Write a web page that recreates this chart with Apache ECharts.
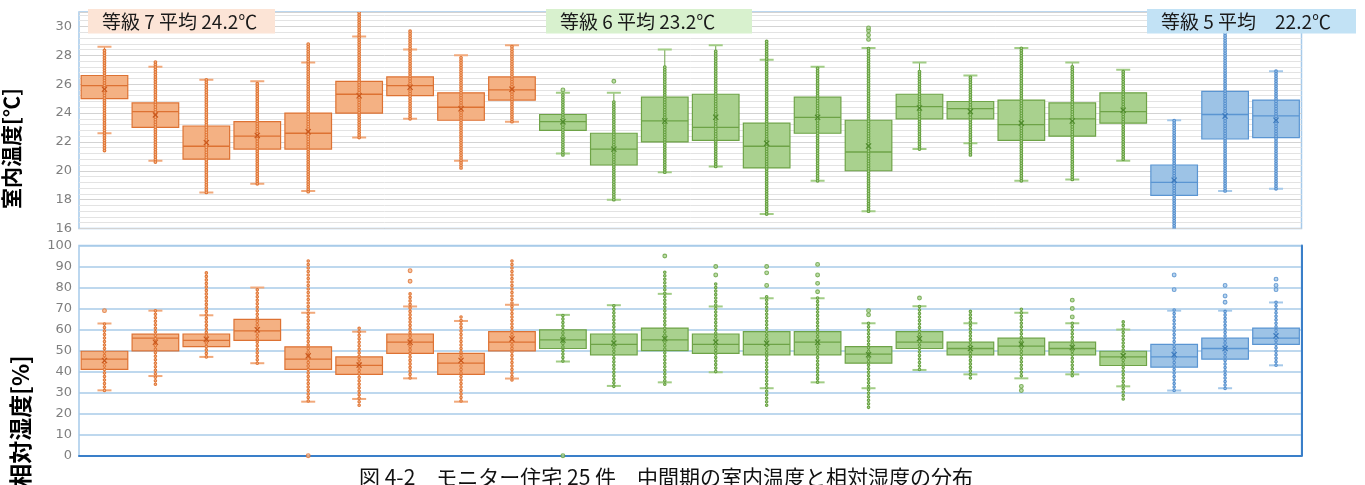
<!DOCTYPE html>
<html>
<head>
<meta charset="utf-8">
<title>中間期の室内温度と相対湿度の分布</title>
<script src="https://cdn.jsdelivr.net/npm/echarts@6/dist/echarts.min.js"></script>
<style>
  html, body { margin: 0; padding: 0; background: #ffffff; }
  #chart { width: 1365px; height: 485px; }
</style>
</head>
<body>
<div id="chart"></div>
<script>
// Monitored houses (24 with data) and their insulation grade
const houses = ['1','2','3','4','5','6','7','8','9','10','11','12',
                '13','14','15','16','17','18','19','20','21','22','23','24'];
const grades = [7,7,7,7,7,7,7,7,7, 6,6,6,6,6,6,6,6,6,6,6,6, 5,5,5];

// Group captions
const gradeNames = ['等級 7 平均', '等級 6 平均', '等級 5 平均'];
const gradeAvg   = ['24.2', '23.2', '22.2'];
const gradeGap   = [' ', ' ', '　'];

// Indoor temperature [℃]: whisker ends, quartiles, median, mean
const tempLow  = [22.6,20.7,18.5,19.1,18.6,22.3,23.6,20.7,23.4, 21.2,18.0,19.9,20.3,17.0,19.3,17.2,21.5,21.9,19.3,19.4,20.7, 15.5,18.6,18.75];
const tempQ1   = [25.0,23.0,20.8,21.5,21.5,24.0,25.2,23.5,24.9, 22.8,20.4,22.0,22.1,20.2,22.6,20.0,23.6,23.6,22.1,22.4,23.3, 18.3,22.2,22.3];
const tempMed  = [25.9,24.1,21.7,22.4,22.6,25.3,25.9,24.4,25.6, 23.4,21.5,23.45,23.0,21.7,23.7,21.3,24.45,24.3,23.2,23.6,24.1, 19.2,23.9,23.8];
const tempQ3   = [26.6,24.7,23.1,23.4,24.0,26.2,26.5,25.4,26.5, 23.9,22.6,25.1,25.3,23.3,25.1,23.5,25.3,24.8,24.9,24.7,25.4, 20.4,25.5,24.9];
const tempHigh = [28.6,27.2,26.3,26.2,27.5,29.3,28.4,28.0,28.7, 25.4,25.4,28.4,28.7,27.7,27.2,28.5,27.5,26.6,28.5,27.5,27.0, 23.5,29.7,26.9];
const tempMean = [25.65,23.87,21.95,22.45,22.7,25.2,25.79,24.3,25.65, 23.4,21.5,23.45,23.71,21.9,23.7,21.72,24.35,24.1,23.3,23.45,24.2, 19.35,23.8,23.5];
// Span covered by the individual readings, plus separated readings
const tempDotLo = [21.4,20.6,18.5,19.1,18.55,22.3,23.6,20.2,23.4, 21.1,18.0,19.9,20.3,17.0,19.3,17.2,21.5,21.1,19.3,19.4,20.8, 15.5,18.6,18.75];
const tempDotHi = [28.5,27.7,26.3,26.2,28.9,31.2,29.8,27.9,28.7, 25.4,24.9,27.3,28.3,29.0,27.2,28.5,27.0,26.6,28.5,27.3,27.0, 23.5,29.7,26.9];
const tempExtra = [[],[],[],[],[],[],[],[],[], [25.6],[26.2],[],[],[],[],[29.1,29.4,29.7,29.9],[],[],[],[],[], [],[],[]];

// Relative humidity [%]
const humLow  = [31.1,37.9,47.0,44.0,25.7,27.0,36.8,25.7,36.7, 44.8,33.2,34.9,39.7,32.1,34.9,32.1,40.8,38.7,36.8,38.7,33.0, 31.0,32.1,43.0];
const humQ1   = [41.1,49.9,51.9,54.9,41.1,38.7,48.7,38.7,49.9, 51.0,48.0,50.0,48.7,48.0,48.0,44.0,51.0,48.0,48.0,48.0,42.9, 42.1,45.9,53.0];
const humMed  = [45.9,55.9,54.9,59.4,45.9,43.0,54.0,44.0,54.0, 55.1,53.0,55.1,53.0,53.0,54.0,48.3,54.0,51.0,52.1,51.0,47.0, 47.0,51.0,55.9];
const humQ3   = [49.7,57.8,57.9,64.9,51.8,47.0,57.9,48.7,59.0, 59.9,57.9,60.7,57.9,59.0,59.0,51.9,59.0,54.0,55.9,54.0,49.7, 53.0,55.9,60.7];
const humHigh = [62.9,69.0,66.8,80.0,68.0,59.0,71.0,64.1,71.8, 67.0,71.6,77.0,71.0,74.9,74.9,63.0,71.1,63.0,68.0,63.0,60.0, 69.0,69.0,72.9];
const humMean = [45.3,54.0,55.4,59.9,47.5,43.1,54.0,45.3,55.5, 55.0,53.5,55.7,54.0,53.5,54.0,48.0,55.7,51.0,53.0,51.5,47.5, 48.0,51.0,57.0];
const humDotLo = [31,34,47,44,26,24,37,26,36, 45,33,34,40,24,35,23,41,37,38,38,27, 31,32,43];
const humDotHi = [63,69,88,80,93,62,77,66,93, 67,72,88,83,76,76,63,72,69,70,63,65, 70,69,74];
const humExtra = [[69],[],[],[],[0],[],[83,88],[],[], [0],[],[95],[86,90],[81,87,90],[78,82,86,91],[67,69],[75],[],[31,33],[66,70,74],[], [79,86],[73,76,81],[79,81,84]];

const titleText = '図 4-2　モニター住宅 25 件　中間期の室内温度と相対湿度の分布';

// Colours per grade
const palette = {
  7: { fill: '#F4B183', stroke: '#DD7233', dot: '#E07636', inner: '#F5B88F', cap: '#F1A97B', mean: '#C9571C', label: '#FCE4D6' },
  6: { fill: '#A9D18E', stroke: '#6EA347', dot: '#66A040', inner: '#ADD493', cap: '#A2CD86', mean: '#4E8A2C', label: '#D8F1CE' },
  5: { fill: '#9DC3E6', stroke: '#5A95D2', dot: '#548ECD', inner: '#A6CAEB', cap: '#A5C9EA', mean: '#3A78BC', label: '#C2E2F5' }
};

const tempStats = { low: tempLow, q1: tempQ1, med: tempMed, q3: tempQ3, high: tempHigh, mean: tempMean, dotLo: tempDotLo, dotHi: tempDotHi };
const humStats  = { low: humLow,  q1: humQ1,  med: humMed,  q3: humQ3,  high: humHigh,  mean: humMean,  dotLo: humDotLo,  dotHi: humDotHi };

// Box, whiskers, caps, a column of readings and the mean cross for one house
function boxRenderer(st, step, outerW, innerW) {
  return function (params, api) {
    const i = params.dataIndex;
    const pal = palette[grades[i]];
    const cx = api.coord([i, st.med[i]])[0];
    const bw = api.size([1, 0])[0] * 0.915;
    const py = v => api.coord([i, v])[1];
    const yLo = py(st.low[i]), yQ1 = py(st.q1[i]), yMed = py(st.med[i]);
    const yQ3 = py(st.q3[i]), yHi = py(st.high[i]), yMean = py(st.mean[i]);
    const yDLo = py(st.dotLo[i]), yDHi = py(st.dotHi[i]);
    const capHalf = 7, m = 2.6;
    const dash = [0.001, step];
    return {
      type: 'group',
      children: [
        { type: 'rect', shape: { x: cx - bw / 2, y: yQ3, width: bw, height: yQ1 - yQ3 },
          style: { fill: pal.fill, stroke: pal.stroke, lineWidth: 1.2 } },
        { type: 'line', shape: { x1: cx - bw / 2, y1: yMed, x2: cx + bw / 2, y2: yMed },
          style: { stroke: pal.stroke, lineWidth: 1.3 } },
        { type: 'line', shape: { x1: cx, y1: yHi, x2: cx, y2: yLo },
          style: { stroke: pal.stroke, lineWidth: 1 } },
        { type: 'line', shape: { x1: cx - capHalf, y1: yHi, x2: cx + capHalf, y2: yHi },
          style: { stroke: pal.cap, lineWidth: 2 } },
        { type: 'line', shape: { x1: cx - capHalf, y1: yLo, x2: cx + capHalf, y2: yLo },
          style: { stroke: pal.cap, lineWidth: 2 } },
        { type: 'line', shape: { x1: cx, y1: yDLo, x2: cx, y2: yDHi },
          style: { stroke: pal.dot, lineWidth: outerW, lineDash: dash, lineCap: 'round', fill: null } },
        { type: 'line', shape: { x1: cx, y1: yDLo, x2: cx, y2: yDHi },
          style: { stroke: pal.inner, lineWidth: innerW, lineDash: dash, lineCap: 'round', fill: null } },
        { type: 'line', shape: { x1: cx - m, y1: yMean - m, x2: cx + m, y2: yMean + m },
          style: { stroke: pal.mean, lineWidth: 1.1 } },
        { type: 'line', shape: { x1: cx - m, y1: yMean + m, x2: cx + m, y2: yMean - m },
          style: { stroke: pal.mean, lineWidth: 1.1 } }
      ]
    };
  };
}

function separatedPoints(extra) {
  const pts = [];
  extra.forEach((vals, i) => vals.forEach(v => pts.push({
    value: [i, v],
    itemStyle: { color: palette[grades[i]].inner, borderColor: palette[grades[i]].dot, borderWidth: 1.1 }
  })));
  return pts;
}

const labelFont = 'DejaVu Sans';
const gridBorder = '#A6CAEA';

// Caption boxes above the plot
const captionBoxes = [
  { x: 88, w: 187 },
  { x: 546, w: 206 },
  { x: 1147, w: 209 }
];
const captionGraphics = [];
[7, 6, 5].forEach((g, k) => {
  const b = captionBoxes[k];
  captionGraphics.push({
    type: 'rect', z: 100,
    shape: { x: b.x, y: 9, width: b.w, height: 24.5 },
    style: { fill: palette[g].label }
  });
  captionGraphics.push({
    type: 'text', z: 101, x: b.x + 14, y: 21.5,
    style: {
      text: gradeNames[k] + gradeGap[k] + gradeAvg[k] + '℃',
      font: '19px "Noto Sans CJK JP"', fill: '#1a1a1a',
      align: 'left', verticalAlign: 'middle'
    }
  });
});

const chart = echarts.init(document.getElementById('chart'), null, { renderer: 'canvas' });

chart.setOption({
  animation: false,
  backgroundColor: '#ffffff',
  grid: [
    { left: 79, right: 63.5, top: 12, height: 216.5, show: true, borderColor: gridBorder, borderWidth: 1.5, backgroundColor: 'transparent' },
    { left: 79, right: 63.5, top: 245.5, height: 210.2, show: true, borderColor: gridBorder, borderWidth: 1.5, backgroundColor: 'transparent' }
  ],
  xAxis: [
    { gridIndex: 0, type: 'category', data: houses, boundaryGap: true,
      axisLine: { show: false }, axisTick: { show: false }, axisLabel: { show: false }, splitLine: { show: false } },
    { gridIndex: 1, type: 'category', data: houses, boundaryGap: true,
      axisLine: { show: true, lineStyle: { color: '#3A7FC9', width: 2 } },
      axisTick: { show: false }, axisLabel: { show: false }, splitLine: { show: false } }
  ],
  yAxis: [
    { gridIndex: 0, type: 'value', min: 16, max: 31, interval: 2,
      axisLine: { show: false }, axisTick: { show: false },
      axisLabel: { showMaxLabel: false, color: '#7f7f7f', fontSize: 13, fontFamily: labelFont, margin: 7 },
      splitLine: { lineStyle: { color: '#D3D3D3', width: 1 } },
      minorTick: { show: false, splitNumber: 5 },
      minorSplitLine: { show: true, lineStyle: { color: '#E3E3E3', width: 1 } } },
    { gridIndex: 1, type: 'value', min: 0, max: 100, interval: 10,
      axisLine: { show: false }, axisTick: { show: false },
      axisLabel: { color: '#7f7f7f', fontSize: 13, fontFamily: labelFont, margin: 7 },
      splitLine: { lineStyle: { color: '#A9CBE9', width: 1.5 } } },
    { gridIndex: 1, type: 'value', min: 0, max: 100, interval: 10, position: 'right',
      axisLine: { show: true, lineStyle: { color: '#3A7FC9', width: 2 } },
      axisTick: { show: false }, axisLabel: { show: false }, splitLine: { show: false } }
  ],
  series: [
    { type: 'custom', xAxisIndex: 0, yAxisIndex: 0, clip: true, z: 3,
      renderItem: boxRenderer(tempStats, 2.5, 3.8, 1.6),
      encode: { x: 0, y: [1, 2] },
      data: houses.map((h, i) => [i, tempLow[i], tempHigh[i]]) },
    { type: 'scatter', xAxisIndex: 0, yAxisIndex: 0, z: 4, symbol: 'circle', symbolSize: 3.8,
      data: separatedPoints(tempExtra) },
    { type: 'custom', xAxisIndex: 1, yAxisIndex: 1, clip: false, z: 3,
      renderItem: boxRenderer(humStats, 3.5, 3.6, 1.5),
      encode: { x: 0, y: [1, 2] },
      data: houses.map((h, i) => [i, humLow[i], humHigh[i]]) },
    { type: 'scatter', xAxisIndex: 1, yAxisIndex: 1, z: 4, symbol: 'circle', symbolSize: 3.8, clip: false,
      data: separatedPoints(humExtra) }
  ],
  graphic: [
    { type: 'text', x: 11.5, y: 148.5, rotation: Math.PI / 2,
      style: { text: '室内温度[℃]', font: 'bold 21px "Noto Sans CJK JP"', fill: '#000000', align: 'center', verticalAlign: 'middle' } },
    { type: 'text', x: 20, y: 421, rotation: Math.PI / 2,
      style: { text: '相対湿度[%]', font: 'bold 23px "Noto Sans CJK JP"', fill: '#000000', align: 'center', verticalAlign: 'middle' } },
    { type: 'text', x: 666, y: 477,
      style: { text: titleText, font: '21px "Noto Sans CJK JP"', fill: '#111111', align: 'center', verticalAlign: 'middle' } }
  ].concat(captionGraphics)
});
</script>
</body>
</html>
